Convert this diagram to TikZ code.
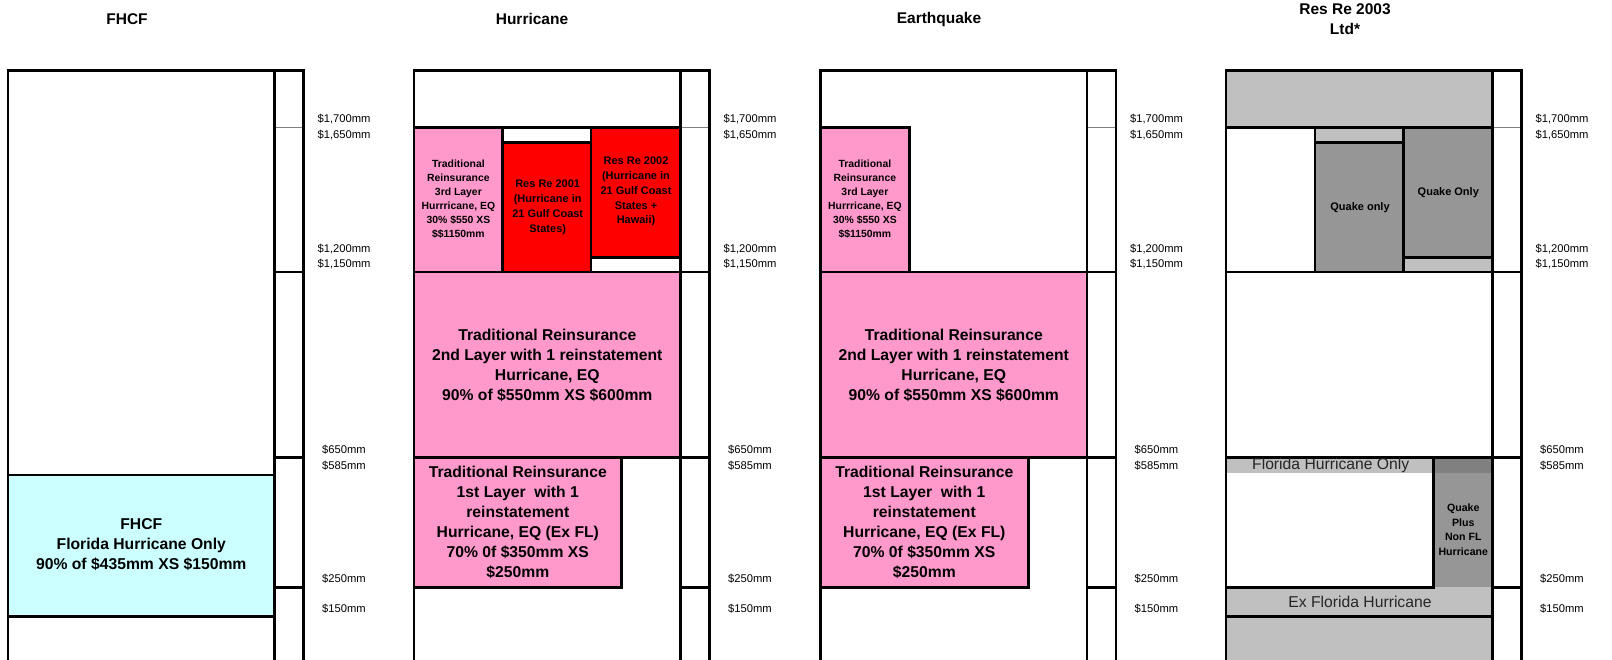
\documentclass[tikz,border=0pt]{standalone}
\usepackage{fontspec}
\setmainfont{Liberation Sans}
\definecolor{pinkL}{HTML}{FF99CC}
\definecolor{redL}{HTML}{FF0000}
\definecolor{cyanL}{HTML}{CCFFFF}
\definecolor{grayA}{HTML}{C0C0C0}
\definecolor{grayB}{HTML}{969696}
\definecolor{grayC}{HTML}{808080}
\begin{document}
\begin{tikzpicture}[x=1pt,y=-1pt,
  ln/.style={line width=2.9pt, line cap=rect},
  hairln/.style={line width=0.9pt, gray},
  big/.style={font=\fontsize{15.7}{20}\selectfont\bfseries, align=center, inner sep=0pt},
  sml/.style={font=\fontsize{10.4}{14}\selectfont\bfseries, align=center, inner sep=0pt},
  smr/.style={font=\fontsize{11}{14.8}\selectfont\bfseries, align=center, inner sep=0pt},
  lab/.style={font=\fontsize{11.2}{13}\selectfont, inner sep=0pt},
  ttl/.style={font=\fontsize{15.5}{20}\selectfont\bfseries, align=center, inner sep=0pt},
  reg/.style={font=\fontsize{15.7}{18}\selectfont, inner sep=0pt, text=black!85}]
\useasboundingbox (0,0) rectangle (1612,660);
\clip (0,0) rectangle (1612,660);

% ---------- titles ----------
\node[ttl] (t1) at (127,19) {FHCF};
\node[ttl] (t2) at (532,19) {Hurricane};
\node[ttl] (t3) at (939,19) {Earthquake};
\node[ttl] (t4) at (1345,19) {Res Re 2003\\Ltd*};

% ---------- FHCF column ----------
\begin{scope}[shift={(8,0)}]
  \fill[cyanL] (0,475) rectangle (266.5,616.7);
  \draw[ln] (0,475) -- (266.5,475);
  \draw[ln] (0,616.7) -- (266.5,616.7);
  \node[big] (fhcf) at (133.3,545) {FHCF\\Florida Hurricane Only\\90\% of \$435mm XS \$150mm};
\end{scope}

% ---------- Hurricane column ----------
\begin{scope}[shift={(414,0)}]
  \fill[pinkL] (0,127.3) rectangle (88.3,272);
  \fill[redL] (88.3,142.3) rectangle (177,272);
  \fill[redL] (177,127.3) rectangle (266.5,257.3);
  \fill[pinkL] (0,272) rectangle (266.5,457.7);
  \fill[pinkL] (0,457.7) rectangle (207.7,587.3);
  \draw[ln] (0,127.3) -- (266.5,127.3);
  \draw[ln] (88.3,127.3) -- (88.3,272);
  \draw[ln] (177,127.3) -- (177,272);
  \draw[ln] (88.3,142.3) -- (177,142.3);
  \draw[ln] (177,257.3) -- (266.5,257.3);
  \draw[ln] (0,272) -- (266.5,272);
  \draw[ln] (0,457.7) -- (266.5,457.7);
  \draw[ln] (207.7,457.7) -- (207.7,587.3) -- (0,587.3);
  \node[sml] (h3) at (44.4,199) {Traditional\\Reinsurance\\3rd Layer\\Hurrricane, EQ\\30\% \$550 XS\\\$\$1150mm};
  \node[smr] (r01) at (133.7,207.5) {Res Re 2001\\(Hurricane in\\21 Gulf Coast\\States)};
  \node[smr] (r02) at (222,191.7) {Res Re 2002\\(Hurricane in\\21 Gulf Coast\\States +\\Hawaii)};
  \node[big] (h2) at (133.3,365) {Traditional Reinsurance\\2nd Layer with 1 reinstatement\\Hurricane, EQ\\90\% of \$550mm XS \$600mm};
  \node[big] (h1) at (103.8,522.4) {Traditional Reinsurance\\1st Layer\ \ with 1\\reinstatement\\Hurricane, EQ (Ex FL)\\70\% 0f \$350mm XS\\\$250mm};
\end{scope}

% ---------- Earthquake column ----------
\begin{scope}[shift={(820.5,0)}]
  \fill[pinkL] (0,127.3) rectangle (88.6,272);
  \fill[pinkL] (0,272) rectangle (266.5,457.7);
  \fill[pinkL] (0,457.7) rectangle (207.7,587.3);
  \draw[ln] (0,127.3) -- (88.6,127.3) -- (88.6,272);
  \draw[ln] (0,272) -- (266.5,272);
  \draw[ln] (0,457.7) -- (266.5,457.7);
  \draw[ln] (207.7,457.7) -- (207.7,587.3) -- (0,587.3);
  \node[sml] (e3) at (44.4,199) {Traditional\\Reinsurance\\3rd Layer\\Hurrricane, EQ\\30\% \$550 XS\\\$\$1150mm};
  \node[big] (e2) at (133.3,365) {Traditional Reinsurance\\2nd Layer with 1 reinstatement\\Hurricane, EQ\\90\% of \$550mm XS \$600mm};
  \node[big] (e1) at (103.8,522.4) {Traditional Reinsurance\\1st Layer\ \ with 1\\reinstatement\\Hurricane, EQ (Ex FL)\\70\% 0f \$350mm XS\\\$250mm};
\end{scope}

% ---------- Res Re 2003 column ----------
\begin{scope}[shift={(1226,0)}]
  \fill[grayA] (0,70.7) rectangle (266.5,127.3);
  \fill[grayA] (89,127.3) rectangle (177.3,142.7);
  \fill[grayB] (89,142.7) rectangle (177.3,272);
  \fill[grayB] (177.3,127.3) rectangle (266.5,257.3);
  \fill[grayA] (177.3,257.3) rectangle (266.5,272);
  \fill[grayA] (0,457.7) rectangle (207.3,473.3);
  \fill[grayC] (207.3,457.7) rectangle (266.5,473.3);
  \fill[grayB] (207.3,473.3) rectangle (266.5,587.3);
  \fill[grayA] (0,587.3) rectangle (266.5,665);
  \draw[ln] (0,127.3) -- (266.5,127.3);
  \draw[ln] (89,127.3) -- (89,272);
  \draw[ln] (177.3,127.3) -- (177.3,272);
  \draw[ln] (89,142.7) -- (177.3,142.7);
  \draw[ln] (177.3,257.3) -- (266.5,257.3);
  \draw[ln] (0,272) -- (266.5,272);
  \draw[ln] (0,457.7) -- (266.5,457.7);
  \draw[ln] (207.3,457.7) -- (207.3,587.3) -- (0,587.3);
  \draw[ln] (0,616.7) -- (266.5,616.7);
  \node[smr] (qo1) at (134,207.3) {Quake only};
  \node[smr] (qo2) at (222.3,192.3) {Quake Only};
  \node[reg] (flo) at (104.7,465.7) {Florida Hurricane Only};
  \node[sml, font=\fontsize{10.6}{14.7}\selectfont\bfseries] (qp) at (237.3,529.8) {Quake\\Plus\\Non FL\\Hurricane};
  \node[reg] (exfl) at (134,601.7) {Ex Florida Hurricane};
\end{scope}

% ---------- frames, side columns, amount labels ----------
\foreach \L/\c in {8/a,414/b,820.5/c,1226/d} {
  \begin{scope}[shift={(\L,0)}]
    \draw[hairln] (266.5,127.3) -- (295.5,127.3);
    \draw[ln] (266.5,272) -- (295.5,272);
    \draw[ln] (266.5,457.7) -- (295.5,457.7);
    \draw[ln] (266.5,587.3) -- (295.5,587.3);
    \draw[ln] (0,665) -- (0,70.7) -- (295.5,70.7) -- (295.5,665);
    \draw[ln] (266.5,70.7) -- (266.5,665);
    \node[lab] (a1700\c) at (336,119) {\$1,700mm};
    \node[lab] (a1650\c) at (336,135) {\$1,650mm};
    \node[lab] (a1200\c) at (336,249) {\$1,200mm};
    \node[lab] (a1150\c) at (336,264) {\$1,150mm};
    \node[lab] (a650\c) at (336,450) {\$650mm};
    \node[lab] (a585\c) at (336,466) {\$585mm};
    \node[lab] (a250\c) at (336,579) {\$250mm};
    \node[lab] (a150\c) at (336,608.7) {\$150mm};
  \end{scope}
}
\end{tikzpicture}
\end{document}
